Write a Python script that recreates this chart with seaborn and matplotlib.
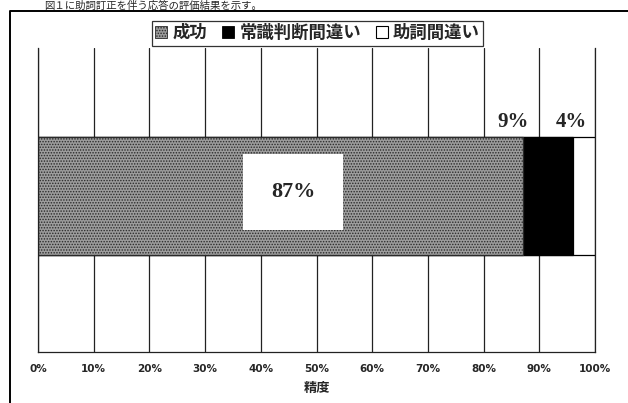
import matplotlib
matplotlib.use("Agg")
import matplotlib.pyplot as plt
from matplotlib.patches import Patch
from matplotlib.lines import Line2D
import seaborn as sns
import pandas as pd

# Evaluation result of responses with particle correction
categories = ["成功", "常識判断間違い", "助詞間違い"]
values = [87, 9, 4]
value_labels = ["87%", "9%", "4%"]
x_ticks = [0, 10, 20, 30, 40, 50, 60, 70, 80, 90, 100]
x_tick_labels = [f"{t}%" for t in x_ticks]
x_label = "精度"
caption = "図１に助詞訂正を伴う応答の評価結果を示す。"

sns.set_theme(style="white")
plt.rcParams["font.family"] = ["Noto Sans CJK JP", "DejaVu Sans"]
plt.rcParams["hatch.linewidth"] = 0.7

fig = plt.figure(figsize=(6.28, 4.03), dpi=100)
ax = fig.add_axes([0.0605, 0.1266, 0.887, 0.7543])

# cumulative ends so each segment is drawn over the next
cum = []
running = 0
for v in values:
    running += v
    cum.append(running)

fill_colors = ["#9c9c9c", "black", "white"]
for i in reversed(range(len(values))):
    df = pd.DataFrame({"y": ["精度"], "x": [cum[i]]})
    sns.barplot(data=df, x="x", y="y", orient="h", ax=ax, width=0.388,
                color=fill_colors[i], edgecolor="black", linewidth=0.9,
                saturation=1)
# stippled fill for the success segment (drawn last)
ax.patches[-1].set_hatch("......")
ax.patches[-1].set_edgecolor("#2a2a2a")

ax.set_xlim(0, 100)
ax.set_ylim(0.513, -0.487)
ax.set_xticks(x_ticks)
ax.set_xticklabels(x_tick_labels, fontsize=7.5, fontweight="bold",
                   family=["DejaVu Sans"])
ax.tick_params(axis="x", length=0, pad=9)
ax.set_yticks([])
ax.set_ylabel("")
ax.set_xlabel(x_label, fontsize=9.5, fontweight="bold", labelpad=5)
for x in x_ticks:
    ax.axvline(x, color="#222222", lw=0.9, zorder=0)
for s in ["left", "right", "bottom"]:
    ax.spines[s].set_visible(True)
    ax.spines[s].set_color("#222222")
    ax.spines[s].set_linewidth(0.9)
ax.spines["top"].set_visible(False)

# value labels
ax.text(45.8, -0.013, value_labels[0], ha="center", va="center",
        fontsize=16, fontweight="bold", family="Liberation Serif",
        bbox=dict(boxstyle="square,pad=1.25", fc="white", ec="none"), zorder=5)
ax.text(85.2, -0.244, value_labels[1], ha="center", va="center",
        fontsize=15, fontweight="bold", family="Liberation Serif")
ax.text(95.8, -0.244, value_labels[2], ha="center", va="center",
        fontsize=15, fontweight="bold", family="Liberation Serif")

handles = [
    Patch(facecolor="#9c9c9c", edgecolor="#2a2a2a", hatch="......", lw=0.6),
    Patch(facecolor="black", edgecolor="black", lw=0.6),
    Patch(facecolor="white", edgecolor="black", lw=0.8),
]
leg = fig.legend(handles, categories, loc="center", ncol=3,
                 bbox_to_anchor=(0.5056, 0.918), frameon=True, fancybox=False,
                 handlelength=0.7, handleheight=0.7, handletextpad=0.3,
                 columnspacing=0.85, borderpad=0.2, borderaxespad=0,
                 prop=dict(size=12.5, weight="bold"))
leg.get_frame().set_edgecolor("black")
leg.get_frame().set_linewidth(0.9)

# outer chart frame
fig.add_artist(Line2D([0.0159, 0.0159, 1.0], [0.0, 0.9727, 0.9727],
                      transform=fig.transFigure, color="black", lw=1.4))

fig.text(0.07, 0.999, caption, ha="left", va="top", fontsize=7.5)

fig.savefig("out.png", dpi=100)
